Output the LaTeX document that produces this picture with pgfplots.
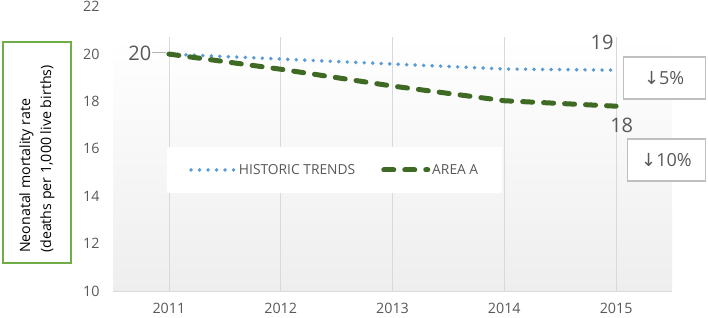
\documentclass[border=0pt]{standalone}
\usepackage{pgfplots}
\pgfplotsset{compat=1.18}
\usepackage{fontspec}
\setmainfont{Open Sans}
\newfontfamily\djv{DejaVu Sans}
\definecolor{txtgray}{HTML}{595959}
\definecolor{histblue}{HTML}{5B9BD5}
\definecolor{areagreen}{HTML}{3E6A24}
\definecolor{boxgreen}{HTML}{70AD47}
\definecolor{gridgray}{HTML}{D9D9D9}
\definecolor{boxgray}{HTML}{BFBFBF}
\definecolor{bggray}{HTML}{EEEEEE}
\begin{document}
\begin{tikzpicture}
\useasboundingbox (0,0) rectangle (708pt,317pt);
\begin{axis}[
  at={(113pt,26pt)}, anchor=south west,
  scale only axis, width=559pt, height=254pt,
  xmin=2010.5, xmax=2015.5, ymin=10, ymax=20.72,
  xtick={2011,2012,2013,2014,2015},
  ytick={10,12,14,16,18,20},
  /pgf/number format/1000 sep={},
  /pgf/number format/assume math mode=true,
  xticklabel style={yshift=-9pt},
  yticklabel style={xshift=-10pt},
  tick label style={font=\fontsize{14.3}{17}\selectfont, text=txtgray},
  major tick length=0pt,
  axis x line*=bottom, axis y line*=left,
  x axis line style={draw=gridgray, line width=0.8pt, -},
  y axis line style={draw=none},
  xmajorgrids, grid style={draw=gridgray, line width=0.8pt},
  axis background/.style={top color=white, bottom color=bggray},
  clip=false,
  legend columns=2,
  legend style={at={(0.0964,0.567)}, anchor=north west, draw=none, fill=white,
    inner xsep=22pt, inner ysep=15pt, font=\fontsize{13.8}{16}\selectfont,
    /tikz/every even column/.append style={column sep=24pt}},
  legend image code/.code={\draw[#1] (0pt,0pt) -- (44pt,0pt);},
]
\addplot[histblue, line width=3.9pt, line cap=round, dash pattern=on 0pt off 8.5pt]
  coordinates {(2011,20) (2012,19.79) (2013,19.58) (2014,19.37) (2015,19.32)};
\addlegendentry{\textcolor{txtgray}{HISTORIC TRENDS}}
\addplot[areagreen, line width=5pt, line cap=round, dash pattern=on 10pt off 11pt]
  coordinates {(2011,20) (2012,19.36) (2013,18.65) (2014,18.03) (2015,17.8)};
\addlegendentry{\textcolor{txtgray}{AREA A}}

\node[anchor=east, xshift=-10pt, text=txtgray, font=\fontsize{14.3}{17}\selectfont] at (axis cs:2010.5,22) {22};
\node[text=txtgray, font=\fontsize{20}{24}\selectfont] at (axis cs:2010.74,20.04) {20};
\draw[gray!60, line width=0.8pt] (axis cs:2010.85,20.08) -- (axis cs:2010.97,20.08);
\node[text=txtgray, font=\fontsize{20}{24}\selectfont] at (axis cs:2014.875,20.51) {19};
\node[text=txtgray, font=\fontsize{20}{24}\selectfont] at (axis cs:2015.05,17.0) {18};
\node[draw=boxgray, line width=1.2pt, fill=white, minimum width=82pt, minimum height=42pt,
  text=txtgray, font=\fontsize{18}{21}\selectfont] at (axis cs:2015.43,18.99) {{\djv ↓}5\%};
\node[draw=boxgray, line width=1.2pt, fill=white, minimum width=78pt, minimum height=42pt,
  text=txtgray, font=\fontsize{18}{21}\selectfont] at (axis cs:2015.45,15.53) {{\djv ↓}10\%};
\end{axis}
\draw[boxgreen, line width=1.8pt] (3pt,54pt) rectangle (71pt,275pt);
\node[rotate=90, anchor=west, align=left, inner sep=0pt, font=\fontsize{14.2}{21}\selectfont] at (37pt,64pt)
  {Neonatal mortality rate\\(deaths per 1,000 live births)};
\end{tikzpicture}
\end{document}
